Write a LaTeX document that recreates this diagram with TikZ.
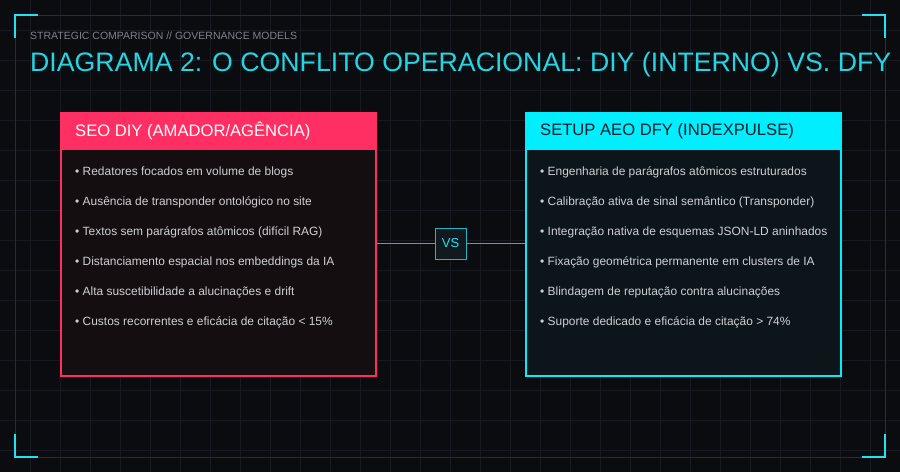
\documentclass[tikz,border=0pt]{standalone}
\usepackage{fontspec}
\setmainfont{Liberation Sans}
\definecolor{bg}{HTML}{0B0C10}
\definecolor{gridc}{HTML}{171A21}
\definecolor{framec}{HTML}{2A2D36}
\definecolor{neon}{HTML}{1EE3F0}
\definecolor{titlec}{HTML}{22D6E4}
\definecolor{subc}{HTML}{7E828A}
\definecolor{pinkc}{HTML}{FF2E63}
\definecolor{cyanh}{HTML}{00EEFF}
\definecolor{bodyL}{HTML}{140E11}
\definecolor{bodyR}{HTML}{0C161A}
\definecolor{itemc}{HTML}{CFCFD2}
\definecolor{hdrdark}{HTML}{08202A}
\definecolor{linec}{HTML}{8A8C92}
\definecolor{vsfill}{HTML}{12191F}
\definecolor{vsborder}{HTML}{1FB5C4}
\tikzset{
  card/.style={anchor=north west, minimum width=315pt, minimum height=263pt, line width=1.6pt, inner sep=0pt},
  hdr/.style={anchor=north west, minimum width=315pt, minimum height=38pt, inner sep=0pt},
  hdrtext/.style={anchor=west, inner sep=0pt, font=\fontsize{16.6}{20}\selectfont},
  item/.style={anchor=west, inner sep=0pt, text=itemc, font=\fontsize{11.95}{14}\selectfont},
  corner/.style={draw=neon, line width=2.2pt},
}
\begin{document}
\begin{tikzpicture}[x=1pt,y=-1pt]
\fill[bg] (0,0) rectangle (900,472);
\useasboundingbox (0,0) rectangle (900,472);
\foreach \i in {30,60,...,870} \draw[gridc, line width=0.8pt] (\i,0) -- (\i,472);
\foreach \j in {30,60,...,450} \draw[gridc, line width=0.8pt] (0,\j) -- (900,\j);
\draw[framec, line width=1pt] (15,15) rectangle (885,457);
\draw[corner] (15,38) -- (15,15) -- (38,15);
\draw[corner] (862,15) -- (885,15) -- (885,38);
\draw[corner] (15,434) -- (15,457) -- (38,457);
\draw[corner] (862,457) -- (885,457) -- (885,434);

\node[anchor=west, inner sep=0pt, text=subc, font=\fontsize{10.5}{12}\selectfont] (sub) at (30,36) {STRATEGIC COMPARISON // GOVERNANCE MODELS};
\node[anchor=west, inner sep=0pt, text=titlec, font=\fontsize{26.7}{30}\selectfont] (title) at (30,65) {DIAGRAMA 2: O CONFLITO OPERACIONAL: DIY (INTERNO) VS. DFY};

% left card
\node[card, draw=pinkc, fill=bodyL] (L) at (60,112) {};
\node[hdr, fill=pinkc] (LH) at (L.north west) {};
\node[hdrtext, text=white] (LHT) at ([xshift=15pt]LH.west) {SEO DIY (AMADOR/AGÊNCIA)};
\node[item] (l1) at (75,172) {• Redatores focados em volume de blogs};
\node[item] (l2) at (75,202) {• Ausência de transponder ontológico no site};
\node[item] (l3) at (75,232) {• Textos sem parágrafos atômicos (difícil RAG)};
\node[item] (l4) at (75,262) {• Distanciamento espacial nos embeddings da IA};
\node[item] (l5) at (75,292) {• Alta suscetibilidade a alucinações e drift};
\node[item] (l6) at (75,322) {• Custos recorrentes e eficácia de citação < 15\%};

% right card
\node[card, draw=cyanh, fill=bodyR] (R) at (525,112) {};
\node[hdr, fill=cyanh] (RH) at (R.north west) {};
\node[hdrtext, text=hdrdark] (RHT) at ([xshift=15pt]RH.west) {SETUP AEO DFY (INDEXPULSE)};
\node[item] (r1) at (540,172) {• Engenharia de parágrafos atômicos estruturados};
\node[item] (r2) at (540,202) {• Calibração ativa de sinal semântico (Transponder)};
\node[item] (r3) at (540,232) {• Integração nativa de esquemas JSON-LD aninhados};
\node[item] (r4) at (540,262) {• Fixação geométrica permanente em clusters de IA};
\node[item] (r5) at (540,292) {• Blindagem de reputação contra alucinações};
\node[item] (r6) at (540,322) {• Suporte dedicado e eficácia de citação > 74\%};

% VS
\node[draw=vsborder, fill=vsfill, line width=1pt, minimum size=31pt, inner sep=0pt, text=neon, font=\fontsize{13}{15}\selectfont] (vs) at (450.5,243.5) {VS};
\draw[linec, line width=1pt] (vs.west -| L.east) -- (vs.west);
\draw[linec, line width=1pt] (vs.east) -- (vs.east -| R.west);
\end{tikzpicture}
\end{document}
